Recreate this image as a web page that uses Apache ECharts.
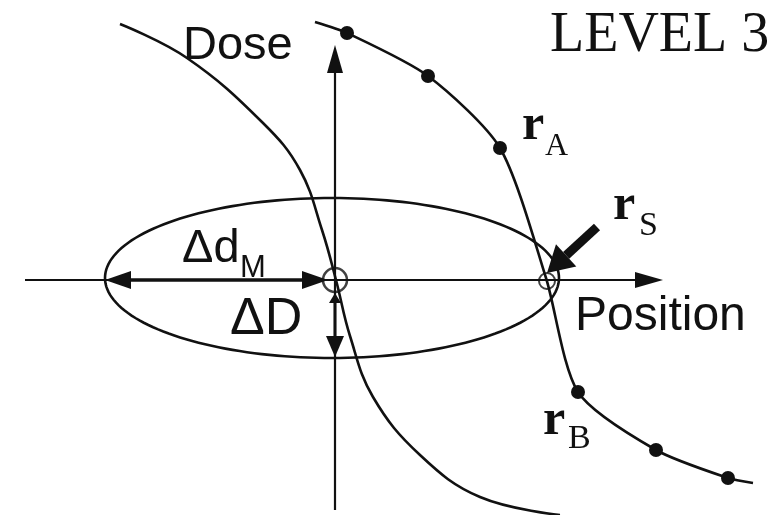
<!DOCTYPE html>
<html><head><meta charset="utf-8">
<script src="https://cdn.jsdelivr.net/npm/echarts@6/dist/echarts.min.js"></script>
<style>html,body{margin:0;padding:0;background:#fff}#c{width:782px;height:515px}</style>
</head><body><div id="c"></div>
<script>
// Data (position units along x, dose units along y; origin at the axes crossing)
const xRange = [-33.5, 44.7];
const yRange = [-23.5, 28.0];
const leftCurve = [[-21.5,25.6],[-14.8,22.2],[-7.2,15.7],[-3.5,11.0],[-1.3,5.0],[0.1,0.0],[1.5,-5.6],[3.8,-11.7],[8.5,-17.5],[14.5,-21.7],[22.5,-23.5]];
const rightCurve = [[-2.0,25.8],[1.2,24.7],[9.3,20.4],[16.5,13.2],[21.1,0.2],[24.3,-11.2],[32.1,-17.0],[39.3,-19.8],[41.8,-20.3]];
const rightDotIndex = [1,2,3,5,6,7];
const ellipseCenter = [-0.3, 0.2];
const ellipseRadii = [22.7, 8.0];
const originMarker = [0, 0];
const rsMarker = [21.2, -0.1];
const axisArrows = [[-31.0,0,32.8,0],[0,-23.0,0,23.5]];
const dmArrow = [-23.0,0,-0.7,0];
const dDArrow = [0,-1.3,0,-7.7];
const rsPointer = [26.2,5.3,21.2,0.7];

const INK = '#111';

function head(tip, from, L, W){
  const dx = tip[0]-from[0], dy = tip[1]-from[1];
  const d = Math.hypot(dx,dy); const ux=dx/d, uy=dy/d; const nx=-uy, ny=ux;
  const bx = tip[0]-ux*L, by = tip[1]-uy*L;
  return {base:[bx,by], pts:[tip,[bx+nx*W,by+ny*W],[bx-nx*W,by-ny*W]]};
}
function arrowRenderer(opt){
  return function(params, api){
    const p1 = api.coord([api.value(0), api.value(1)]);
    const p2 = api.coord([api.value(2), api.value(3)]);
    const children = [];
    const h2 = head(p2, p1, opt.L, opt.W);
    let s = p1, e = h2.base;
    if (opt.both){ const h1 = head(p1, p2, opt.L1||opt.L, opt.W1||opt.W); s = h1.base;
      children.push({type:'polygon', shape:{points:h1.pts}, style:{fill:INK}}); }
    children.push({type:'line', shape:{x1:s[0],y1:s[1],x2:e[0],y2:e[1]}, style:{stroke:INK, lineWidth:opt.lw}});
    children.push({type:'polygon', shape:{points:h2.pts}, style:{fill:INK}});
    return {type:'group', children};
  };
}

const chart = echarts.init(document.getElementById('c'), null, {renderer:'canvas'});
const hidden = {show:false};
chart.setOption({
  backgroundColor:'#fff',
  animation:false,
  grid:{left:0,right:0,top:0,bottom:0,containLabel:false},
  xAxis:{type:'value', min:xRange[0], max:xRange[1], axisLine:hidden, axisTick:hidden, axisLabel:hidden, splitLine:hidden},
  yAxis:{type:'value', min:yRange[0], max:yRange[1], axisLine:hidden, axisTick:hidden, axisLabel:hidden, splitLine:hidden},
  series:[
    {type:'custom', clip:false, silent:true, data:[[ellipseCenter[0],ellipseCenter[1],ellipseRadii[0],ellipseRadii[1]]],
     renderItem:function(params, api){
       const c = api.coord([api.value(0), api.value(1)]);
       const sz = api.size([api.value(2), api.value(3)]);
       const pts=[]; for(let i=0;i<180;i++){const t=i/180*2*Math.PI; pts.push([c[0]+sz[0]*Math.cos(t), c[1]+sz[1]*Math.sin(t)]);}
       return {type:'polygon', shape:{points:pts}, style:{fill:'none', stroke:INK, lineWidth:2.6}};
     }},
    {type:'custom', clip:false, silent:true, data:axisArrows, renderItem:arrowRenderer({L:28,W:8,lw:2.2})},
    {type:'custom', clip:false, silent:true, data:[dmArrow], renderItem:arrowRenderer({L:26,W:9,lw:3.5,both:true})},
    {type:'custom', clip:false, silent:true, data:[dDArrow], renderItem:arrowRenderer({L:21,W:9,lw:3,both:true,L1:10,W1:6})},
    {type:'custom', clip:false, silent:true, data:[rsPointer], renderItem:arrowRenderer({L:26,W:15,lw:9})},
    {type:'line', data:leftCurve, smooth:0.4, showSymbol:false, symbol:'none', lineStyle:{color:INK,width:2.6}, silent:true},
    {type:'line', data:rightCurve.map((p,i)=> rightDotIndex.indexOf(i)>=0 ? {value:p} : {value:p, symbol:'none'}),
     smooth:0.25, symbol:'circle', symbolSize:14, itemStyle:{color:INK}, lineStyle:{color:INK,width:2.6}, silent:true},
    {type:'scatter', data:[originMarker], symbol:'circle', symbolSize:24, itemStyle:{color:'rgba(255,255,255,0)', borderColor:INK, borderWidth:2.5}, silent:true},
    {type:'scatter', data:[rsMarker], symbol:'circle', symbolSize:16, itemStyle:{color:'rgba(255,255,255,0)', borderColor:INK, borderWidth:2}, silent:true}
  ],
  graphic:[
    {type:'text', x:183, y:46, style:{text:'Dose', fontSize:47, fontFamily:'Liberation Sans', fill:INK, verticalAlign:'middle'}},
    {type:'text', x:550, y:36, style:{text:'LEVEL 3', fontSize:56, fontFamily:'Liberation Serif', fill:INK, verticalAlign:'middle'}},
    {type:'text', x:575, y:317, style:{text:'Position', fontSize:48, fontFamily:'Liberation Sans', fill:INK, verticalAlign:'middle'}},
    {type:'text', x:182, y:249, style:{text:'\u0394d', fontSize:47, fontFamily:'Liberation Sans', fill:INK, verticalAlign:'middle'}},
    {type:'text', x:240, y:268, style:{text:'M', fontSize:31, fontFamily:'Liberation Sans', fill:INK, verticalAlign:'middle'}},
    {type:'text', x:230, y:320, style:{text:'\u0394D', fontSize:52, fontFamily:'Liberation Sans', fill:INK, verticalAlign:'middle'}},
    {type:'text', x:522, y:126, style:{text:'r', fontSize:50, fontWeight:'bold', fontFamily:'Liberation Serif', fill:INK, verticalAlign:'middle'}},
    {type:'text', x:545, y:147, style:{text:'A', fontSize:32, fontFamily:'Liberation Serif', fill:INK, verticalAlign:'middle'}},
    {type:'text', x:613, y:206, style:{text:'r', fontSize:50, fontWeight:'bold', fontFamily:'Liberation Serif', fill:INK, verticalAlign:'middle'}},
    {type:'text', x:639, y:226, style:{text:'S', fontSize:34, fontFamily:'Liberation Serif', fill:INK, verticalAlign:'middle'}},
    {type:'text', x:543, y:421, style:{text:'r', fontSize:50, fontWeight:'bold', fontFamily:'Liberation Serif', fill:INK, verticalAlign:'middle'}},
    {type:'text', x:568, y:439, style:{text:'B', fontSize:34, fontFamily:'Liberation Serif', fill:INK, verticalAlign:'middle'}}
  ]
});
</script></body></html>
